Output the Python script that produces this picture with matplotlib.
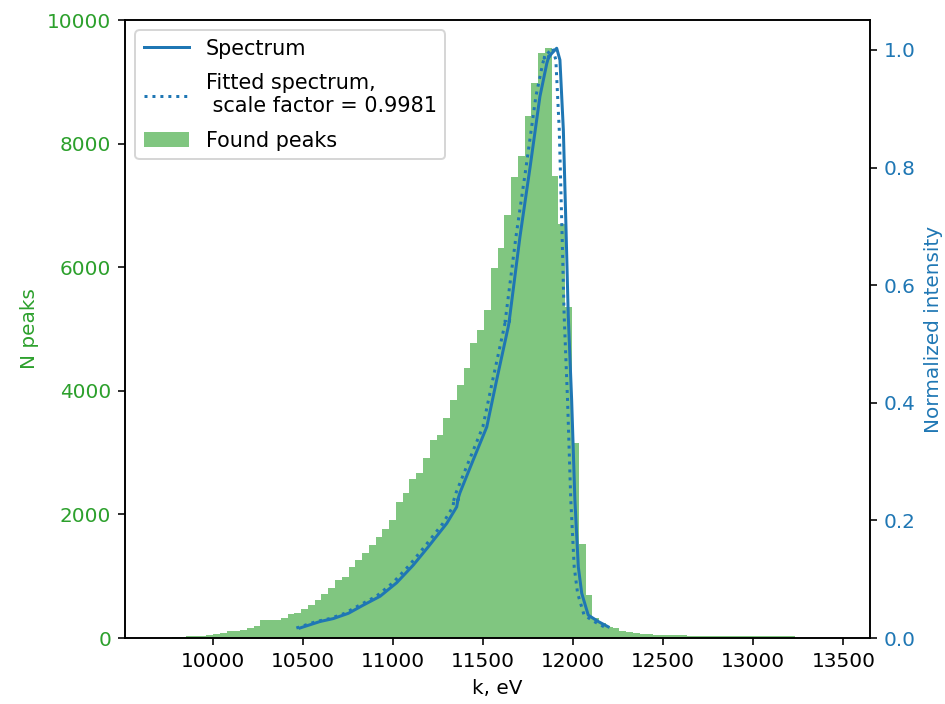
import numpy as np
import matplotlib
matplotlib.use("Agg")
import matplotlib.pyplot as plt

# ---- Data ----
# histogram: 100 bins between 9701 and 13460 eV
bin_lo, bin_hi, n_bins = 9701.0, 13460.0, 100
counts = [
    0, 6, 22, 24, 27, 33, 38, 55, 65, 78,          # 0-9
    108, 118, 128, 167, 194, 285, 290, 298, 318, 395,  # 10-19
    405, 464, 534, 615, 712, 814, 939, 992, 1144, 1262,  # 20-29
    1370, 1510, 1639, 1759, 1909, 2205, 2341, 2568, 2665, 2908,  # 30-39
    3204, 3285, 3555, 3855, 4100, 4364, 4779, 4984, 5307, 5982,  # 40-49
    6306, 6845, 7455, 7799, 8447, 8976, 9471, 9542, 7470, 6700,  # 50-59
    5360, 3160, 1521, 696, 319, 238, 183, 157, 118, 90,  # 60-69
    88, 68, 65, 48, 46, 46, 45, 44, 30, 30,        # 70-79
    30, 30, 30, 30, 29, 29, 29, 28, 28, 28,        # 80-89
    28, 27, 27, 27, 2, 2, 1, 1, 1, 1,              # 90-99
]

spec_e = [10484, 10595, 10669, 10753, 10836, 10929, 11021, 11113, 11196, 11299,
          11354, 11362, 11358, 11372, 11446, 11521, 11576, 11640, 11648, 11645,
          11705, 11761, 11816, 11854, 11866, 11862, 11881, 11909, 11927, 11946,
          11961, 11973, 11992, 12010, 12029, 12048, 12084, 12140, 12195]
spec_i = [0.017, 0.028, 0.033, 0.042, 0.056, 0.071, 0.094, 0.124, 0.155, 0.195,
          0.223, 0.236, 0.233, 0.247, 0.303, 0.359, 0.439, 0.529, 0.542, 0.538,
          0.682, 0.800, 0.921, 0.977, 0.990, 0.986, 0.994, 1.003, 0.983, 0.864,
          0.694, 0.550, 0.405, 0.235, 0.121, 0.076, 0.039, 0.028, 0.019]
scale_factor = 0.9981

edges = np.linspace(bin_lo, bin_hi, n_bins + 1)
centers = 0.5 * (edges[:-1] + edges[1:])
fit_e = np.array(spec_e) * scale_factor

# ---- Plot ----
DPI = 144
fig = plt.figure(figsize=(945 / DPI, 704 / DPI), dpi=DPI)
ax = fig.add_axes([125 / 945, 1 - 638 / 704, 745 / 945, 618 / 704])
ax2 = ax.twinx()

h = ax.hist(centers, bins=edges, weights=counts, color='tab:green', alpha=0.6,
            histtype='stepfilled', linewidth=0, label='Found peaks')
l1, = ax2.plot(spec_e, spec_i, color='tab:blue', label='Spectrum')
l2, = ax2.plot(fit_e, spec_i, color='tab:blue', ls=':',
               label='Fitted spectrum,\n scale factor = 0.9981')

ax.set_xlim(9513, 13648)
ax.set_ylim(0, 10000)
ax2.set_ylim(0, 1.051)

ax.set_xlabel('k, eV')
ax.set_ylabel('N peaks', color='tab:green')
ax2.set_ylabel('Normalized intensity', color='tab:blue')
ax.tick_params(axis='y', labelcolor='tab:green')
ax2.tick_params(axis='y', labelcolor='tab:blue')

patch = h[2][0]
ax2.legend([l1, l2, patch], [l1.get_label(), l2.get_label(), 'Found peaks'],
           loc='upper left', fontsize=10.4, labelspacing=0.7, handlelength=2.2)

fig.savefig('out.png', dpi=DPI)
